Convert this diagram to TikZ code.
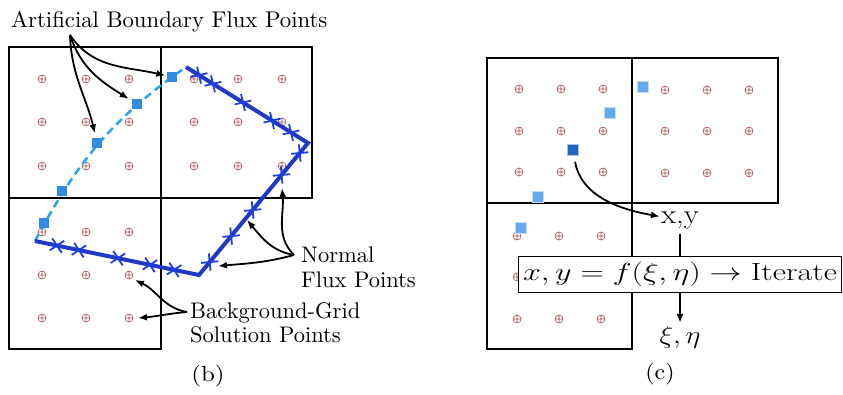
\documentclass[tikz,border=0pt]{standalone}
\usetikzlibrary{shapes.misc,arrows.meta}
\definecolor{solcol}{RGB}{170,85,85}
\definecolor{linecol}{RGB}{32,56,196}
\definecolor{crosscol}{RGB}{28,62,228}
\definecolor{dashcol}{RGB}{40,165,240}
\definecolor{sqcol}{RGB}{50,140,225}
\definecolor{lsqcol}{RGB}{100,170,240}
\definecolor{dsqcol}{RGB}{30,105,190}
\newcommand{\bigtxt}[1]{\scalebox{2.26}{#1}}
\begin{document}
\begin{tikzpicture}[x=1bp,y=1bp,
  cell/.style={draw=black, line width=2.5},
  sq/.style={rectangle, fill=sqcol, minimum size=11, inner sep=0},
  lsq/.style={rectangle, fill=lsqcol, draw=lsqcol!40!white, line width=0.8, minimum size=11, inner sep=0},
  dsq/.style={rectangle, fill=dsqcol, draw=dsqcol!40!white, line width=0.8, minimum size=11, inner sep=0},
  arr/.style={-{Latex[length=9,width=7]}, line width=1.8},
  lbl/.style={font=\fontsize{10}{12}\selectfont, inner sep=0},
  clbl/.style={font=\fontsize{27}{32}\selectfont, inner sep=1},
  xmark/.style={cross out, draw=crosscol, line width=1.8, minimum size=10.5, inner sep=0, sloped},
  solpt/.pic={\draw[solcol, line width=0.6] (0,0) circle (4) (-4,0)--(4,0) (0,-4)--(0,4);}
]
\useasboundingbox (0,0) rectangle (843,-394);

% ---------- panel (b) ----------
\draw[cell] (9,-47) rectangle (161,-198);
\draw[cell] (161,-47) rectangle (312,-198);
\draw[cell] (9,-198) rectangle (161,-349);
\foreach \x in {42,86,129} \foreach \y in {79,122,166} \pic at (\x,-\y) {solpt};
\foreach \x in {194,238,282} \foreach \y in {79,122,166} \pic at (\x,-\y) {solpt};
\foreach \x in {42,86,129} \foreach \y in {232,275,318} \pic at (\x,-\y) {solpt};

\coordinate (A) at (186,-67);
\coordinate (B) at (308,-143);
\coordinate (C) at (199,-275);
\coordinate (D) at (35,-241);

\draw[dashcol, line width=2.5, dash pattern=on 8 off 5] (D) to[out=62,in=-145] (A);
\node[sq] (sq1) at (44,-223) {};
\node[sq] (sq2) at (62,-191) {};
\node[sq] (sq3) at (97,-143) {};
\node[sq] (sq4) at (137,-104) {};
\node[sq] (sq5) at (172,-77) {};

\draw[linecol, line width=4, line join=miter]
  (A) -- (B)
    node[xmark,pos=0.107]{} node[xmark,pos=0.221]{} node[xmark,pos=0.467]{}
    node[xmark,pos=0.705]{} node[xmark,pos=0.861]{}
  -- (C)
    node[xmark,pos=0.076]{} node[xmark,pos=0.242]{} node[xmark,pos=0.508]{}
    node[xmark,pos=0.705]{} node[xmark,pos=0.902]{}
  -- (D)
    node[xmark,pos=0.152]{} node[xmark,pos=0.299]{} node[xmark,pos=0.494]{}
    node[xmark,pos=0.732]{} node[xmark,pos=0.866]{};

\node[lbl, anchor=base west] (abfp) at (11,-27) {\scalebox{2.28}{Artificial Boundary Flux Points}};
\coordinate (abo) at (70,-35);
\draw[arr, shorten >=1] (abo) to[out=-56,in=167] (sq5);
\draw[arr, shorten >=3] (abo) to[out=-72,in=148] (sq4);
\draw[arr, shorten >=4] (abo) to[out=-88,in=103] (sq3);

\node[lbl, anchor=base west] (nrm) at (301,-262) {\bigtxt{Normal}};
\node[lbl, anchor=base west] (nfp) at (301,-287) {\bigtxt{Flux Points}};
\coordinate (nfo) at (294,-255);
\coordinate (t1) at (282,-188);
\coordinate (t2) at (247,-220);
\coordinate (t3) at (218,-266);
\draw[arr] (nfo) to[out=135,in=-85] (t1);
\draw[arr] (nfo) to[out=170,in=-50] (t2);
\draw[arr] (nfo) to[out=195,in=5] (t3);

\node[lbl, anchor=base west] (bg) at (190,-318) {\bigtxt{Background-Grid}};
\node[lbl, anchor=base west] (sp) at (190,-342) {\bigtxt{Solution Points}};
\coordinate (bgo) at (187,-312);
\coordinate (t4) at (135,-280);
\coordinate (t5) at (138,-318);
\draw[arr] (bgo) to[out=170,in=-25] (t4);
\draw[arr] (bgo) to[out=185,in=5] (t5);

\node[lbl] (pb) at (208,-376) {\scalebox{2.5}[2.2]{(b)}};

% ---------- panel (c) ----------
\draw[cell] (487,-58) rectangle (632,-203);
\draw[cell] (632,-58) rectangle (778,-203);
\draw[cell] (487,-203) rectangle (632,-349);
\foreach \x in {519,561,603} \foreach \y in {89,131,172} \pic at (\x,-\y) {solpt};
\foreach \x in {665,707,749} \foreach \y in {90,131,173} \pic at (\x,-\y) {solpt};
\foreach \x in {517,559,601} \foreach \y in {236,277,319} \pic at (\x,-\y) {solpt};

\node[lsq] (c1) at (643,-87) {};
\node[lsq] (c2) at (610,-113) {};
\node[lsq] (c3) at (538,-197) {};
\node[lsq] (c4) at (521,-228) {};
\node[dsq] (c5) at (573,-150) {};

\node[clbl] (xy) at (680,-220) {\scalebox{1.15}[1]{x,y}};
\node[clbl] (xi) at (680,-337) {\scalebox{1.15}[1]{$\xi,\eta$}};
\draw[arr, shorten <=6] (c5) to[out=-80,in=170] (xy);
\draw[arr, shorten <=4, shorten >=2] (xy.south) -- (xi.north);
\node[draw, fill=white, line width=1, minimum width=324, minimum height=37, inner sep=0,
      font=\fontsize{25}{30}\selectfont] (iter) at (680,-274.5)
  {\scalebox{1.3}[1]{$x, y = f(\xi,\eta) \rightarrow \mbox{Iterate}$}};

\node[lbl] (pc) at (660,-374) {\scalebox{2.4}[2.2]{(c)}};
\end{tikzpicture}
\end{document}
